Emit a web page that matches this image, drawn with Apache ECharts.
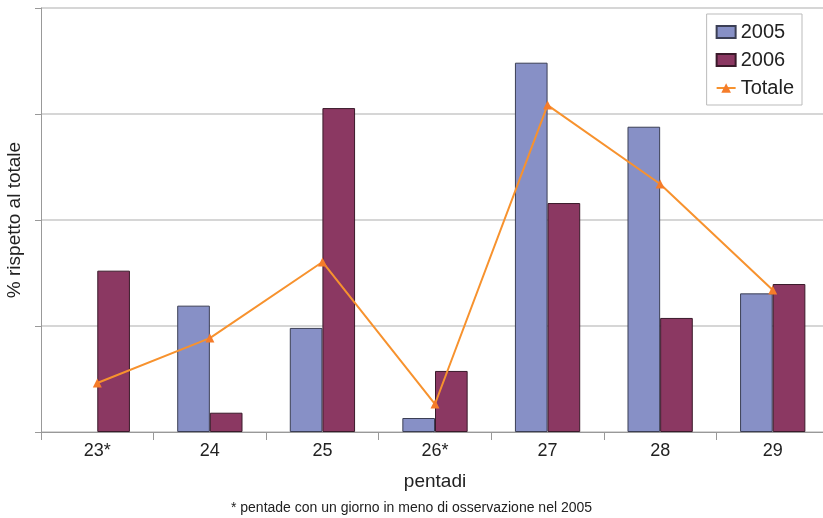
<!DOCTYPE html>
<html><head><meta charset="utf-8">
<script src="https://cdn.jsdelivr.net/npm/echarts@6/dist/echarts.min.js"></script>
<style>html,body{margin:0;padding:0;background:#fff}#c{width:823px;height:518px}</style>
</head><body><div id="c"></div>
<script>
const categories = ['23*','24','25','26*','27','28','29'];
const v2005 = [null, 5.96, 4.91, 0.66, 17.42, 14.40, 6.54];
const v2006 = [7.61, 0.91, 15.28, 2.88, 10.80, 5.38, 6.98];
const totale = [2.31, 4.43, 8.02, 1.32, 15.42, 11.70, 6.70];

const chart = echarts.init(document.getElementById('c'), null, {renderer:'canvas'});
const font = 'Liberation Sans, Arial, sans-serif';
chart.setOption({
  animation:false,
  backgroundColor:'#fff',
  grid:{left:41, top:8, right:-6, bottom:86, containLabel:false, outerBoundsMode:'none'},
  legend:{
    orient:'vertical', right:21, top:14, itemGap:8,
    padding:[8,8,7,9],
    borderColor:'#bbb', borderWidth:1,
    itemWidth:19, itemHeight:12,
    textStyle:{fontFamily:font, fontSize:20, color:'#222'},
    data:[
      {name:'2005', icon:'rect'},
      {name:'2006', icon:'rect'},
      {name:'Totale'}
    ]
  },
  xAxis:{
    type:'category', data:categories,
    axisLine:{lineStyle:{color:'#999'}},
    axisTick:{show:true, length:8, lineStyle:{color:'#999'}},
    axisLabel:{fontFamily:font, fontSize:18, color:'#222', margin:10},
    name:'pentadi', nameLocation:'middle', nameGap:40,
    nameTextStyle:{fontFamily:font, fontSize:19, color:'#222'}
  },
  yAxis:{
    type:'value', min:0, max:20, interval:5,
    axisLine:{show:true, lineStyle:{color:'#999'}},
    axisTick:{show:true, inside:false, length:6, lineStyle:{color:'#999'}},
    axisLabel:{show:false},
    splitLine:{lineStyle:{color:'#c8c8c8', width:1.5}},
    name:'% rispetto al totale', nameLocation:'middle', nameGap:17,
    nameTextStyle:{fontFamily:font, fontSize:19, color:'#222'}
  },
  series:[
    {name:'2005', type:'bar', data:v2005, barGap:'0%', barCategoryGap:'42%',
     itemStyle:{color:'#8790C6', borderColor:'#3b3f55', borderWidth:1}},
    {name:'2006', type:'bar', data:v2006,
     itemStyle:{color:'#8B3862', borderColor:'#3a1a2a', borderWidth:1}},
    {name:'Totale', type:'line', data:totale, symbol:'triangle', symbolSize:9,
     lineStyle:{color:'#F7922E', width:2},
     itemStyle:{color:'#F57C2A'}}
  ],
  graphic:[{
    type:'text', left:'center', top:501,
    style:{text:'* pentade con un giorno in meno di osservazione nel 2005',
      font:'14px '+font, fill:'#222'}
  }]
});
</script></body></html>
